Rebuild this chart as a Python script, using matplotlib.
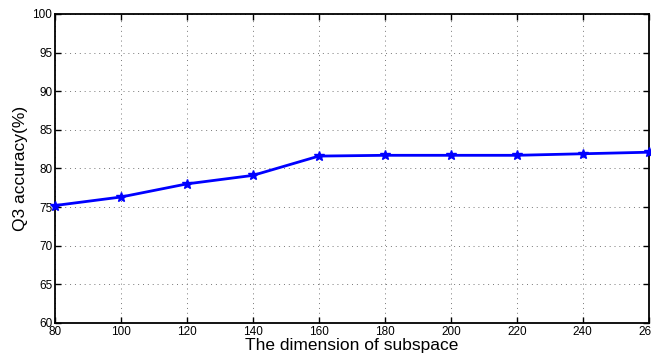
import matplotlib
matplotlib.use("Agg")
import matplotlib.pyplot as plt

plt.rcParams['font.family'] = ['Liberation Sans', 'DejaVu Sans']

# subspace dimension vs Q3 accuracy
dims = [80, 100, 120, 140, 160, 180, 200, 220, 240, 260]
acc = [75.2, 76.3, 78.0, 79.1, 81.6, 81.7, 81.7, 81.7, 81.9, 82.1]
xticks = list(range(80, 261, 20))
yticks = list(range(60, 101, 5))

fig = plt.figure(figsize=(6.51, 3.58), dpi=100)
ax = fig.add_axes([0.0845, 0.098, 0.912, 0.863])

ax.plot(dims, acc, color='#0000ff', linewidth=2, marker='*', markersize=7,
        markeredgewidth=1, clip_on=False, zorder=3)

ax.set_xlim(80, 260)
ax.set_ylim(60, 100)
ax.set_xticks(xticks)
ax.set_yticks(yticks)
ax.tick_params(direction='in', labelsize=8.5, length=4, width=1, pad=2,
               top=True, right=True)
ax.grid(True, linestyle=(0, (1, 4)), color='#777777', linewidth=0.7)
for s in ax.spines.values():
    s.set_linewidth(1.3)

ax.set_xlabel('The dimension of subspace', fontsize=12.5, labelpad=0)
ax.set_ylabel('Q3 accuracy(%)', fontsize=12.5, labelpad=3)

fig.savefig('out.png', dpi=100)
